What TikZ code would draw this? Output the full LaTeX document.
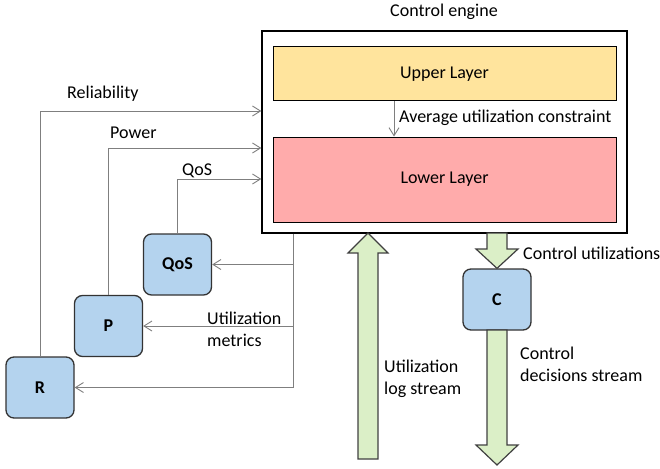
\documentclass[tikz,border=0pt]{standalone}
\usepackage{fontspec}
\setmainfont{Carlito}
\usetikzlibrary{arrows.meta}
\definecolor{upperc}{HTML}{FFE49D}
\definecolor{lowerc}{HTML}{FFABAB}
\definecolor{boxc}{HTML}{B4D3EE}
\definecolor{greenc}{HTML}{DBEFC7}
\definecolor{linec}{HTML}{7F7F7F}
\begin{document}
\begin{tikzpicture}[x=1pt,y=-1pt,
  every node/.style={font=\fontsize{18}{22}\selectfont},
  lbl/.style={anchor=west,inner sep=0pt,align=left},
  layer/.style={draw=black,line width=1pt,minimum width=343pt,inner sep=0pt},
  unit/.style={draw=black!80,line width=1.3pt,fill=boxc,rounded corners=8pt,minimum width=68pt,minimum height=61pt,inner sep=0pt,font=\fontsize{18}{22}\selectfont\bfseries},
  conn/.style={draw=linec,line width=0.9pt,-{Straight Barb[length=8pt,width=10pt]}},
  plain/.style={draw=linec,line width=0.9pt},
  fat/.style={draw=black!75,line width=1.2pt,fill=greenc,line join=miter}]
\useasboundingbox (0,0) rectangle (660,468);
% control engine
\node[draw=black,line width=1.4pt,minimum width=365pt,minimum height=202pt,inner sep=0pt] (engine) at (444.5,132) {};
\node (title) at (444,12) {Control engine};
\node[layer,fill=upperc,minimum height=54pt] (upper) at (444.5,74) {Upper Layer};
\node[layer,fill=lowerc,minimum height=85pt] (lower) at (444.5,179.5) {Lower Layer};
\draw[conn] (upper.south -| 394,0) -- (lower.north -| 394,0);
\node[lbl] (avg) at (399,118) {Average utilization constraint};
% units
\node[unit] (Q) at (177.5,264.5) {QoS};
\node[unit] (P) at (108.5,326) {P};
\node[unit] (R) at (40,387.5) {R};
\node[unit] (C) at (497,299.5) {C};
% feedback to engine
\draw[conn] (R.north) |- (engine.west |- 0,111);
\draw[conn] (P.north) |- (engine.west |- 0,148);
\draw[conn] (Q.north) |- (engine.west |- 0,179);
\node[lbl] (lrel) at (67,94) {Reliability};
\node[lbl] (lpow) at (110,133) {Power};
\node[lbl] (lqos) at (182,171) {QoS};
% metrics from engine
\coordinate (tap) at (293,0);
\draw[plain] (engine.south -| tap) -- (R.east -| tap);
\draw[conn] (R.east -| tap) -- (R.east);
\draw[conn] (P.east -| tap) -- (P.east);
\draw[conn] (Q.east -| tap) -- (Q.east);
\node[lbl] (lmet) at (207,329.5) {Utilization\\metrics};
% big arrows
\draw[fat] (358,459) -- (358,253) -- (348,253) -- (368,233) -- (388,253) -- (378,253) -- (378,459) -- cycle;
\draw[fat] (487,233) -- (487,249) -- (476,249) -- (C.north) -- (518,249) -- (507,249) -- (507,233) -- cycle;
\draw[fat] (487,330) -- (487,445) -- (476,445) -- (497,465) -- (518,445) -- (507,445) -- (507,330) -- cycle;
\node[lbl] (lcu) at (523,253) {Control utilizations};
\node[lbl] (llog) at (384,378.5) {Utilization\\log stream};
\node[lbl] (ldec) at (520,364) {Control\\decisions stream};
\end{tikzpicture}
\end{document}
